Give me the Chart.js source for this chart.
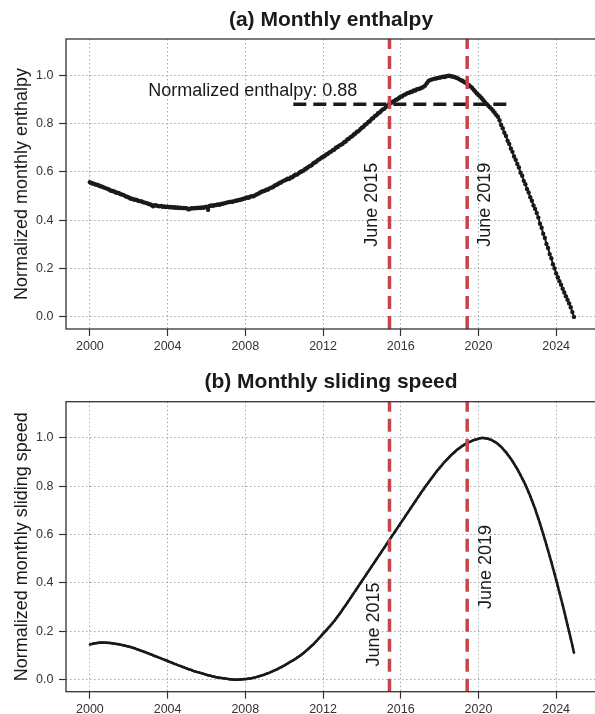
<!DOCTYPE html>
<html>
<head>
<meta charset="utf-8">
<script src="https://cdn.jsdelivr.net/npm/chart.js@4.4.0/dist/chart.umd.min.js"></script>
<style>
  html, body { margin: 0; padding: 0; background: #fff; overflow: hidden; }
  #wrap { position: relative; width: 595px; height: 714px; overflow: hidden; }
  canvas { position: absolute; left: 0; }
  #chartA { top: 0; }
  #chartB { top: 357px; }
</style>
</head>
<body>
<div id="wrap">
  <canvas id="chartA" width="600" height="357"></canvas>
  <canvas id="chartB" width="600" height="357"></canvas>
</div>
<script>
// monthly series, January 2000 .. December 2024
const startYear = 2000;

const enthalpy = [
  0.557,0.553,0.552,0.549,0.547,0.546,0.542,0.540,0.538,0.534,0.532,0.530,
  0.526,0.522,0.521,0.519,0.515,0.514,0.512,0.508,0.506,0.504,0.499,0.497,
  0.494,0.490,0.489,0.486,0.485,0.484,0.480,0.479,0.478,0.474,0.473,0.471,
  0.468,0.466,0.463,0.458,0.462,0.461,0.459,0.458,0.459,0.456,0.457,0.455,
  0.456,0.454,0.455,0.453,0.454,0.452,0.453,0.451,0.452,0.450,0.451,0.450,
  0.449,0.445,0.448,0.450,0.449,0.451,0.450,0.452,0.451,0.453,0.452,0.454,
  0.456,0.443,0.459,0.461,0.460,0.462,0.463,0.465,0.464,0.467,0.468,0.470,
  0.472,0.474,0.475,0.477,0.476,0.479,0.481,0.482,0.484,0.485,0.487,0.489,
  0.491,0.494,0.493,0.497,0.500,0.499,0.503,0.507,0.510,0.514,0.518,0.520,
  0.522,0.526,0.527,0.532,0.535,0.537,0.543,0.546,0.549,0.554,0.556,0.561,
  0.564,0.567,0.572,0.571,0.577,0.578,0.584,0.588,0.589,0.595,0.600,0.603,
  0.606,0.612,0.615,0.621,0.625,0.628,0.636,0.639,0.643,0.650,0.653,0.659,
  0.663,0.666,0.672,0.675,0.681,0.684,0.690,0.693,0.700,0.703,0.709,0.712,
  0.716,0.723,0.726,0.734,0.737,0.744,0.748,0.755,0.759,0.766,0.769,0.777,
  0.783,0.787,0.795,0.799,0.807,0.811,0.819,0.823,0.831,0.835,0.843,0.846,
  0.853,0.859,0.862,0.871,0.875,0.883,0.885,0.891,0.893,0.899,0.901,0.907,
  0.911,0.913,0.919,0.921,0.926,0.927,0.931,0.932,0.937,0.937,0.942,0.943,
  0.945,0.948,0.952,0.957,0.966,0.975,0.980,0.982,0.984,0.986,0.987,0.989,
  0.990,0.992,0.994,0.993,0.996,0.997,0.998,0.996,0.995,0.993,0.991,0.988,
  0.984,0.980,0.977,0.973,0.969,0.965,0.960,0.954,0.948,0.940,0.933,0.925,
  0.918,0.912,0.905,0.897,0.889,0.881,0.875,0.868,0.861,0.853,0.845,0.836,
  0.828,0.814,0.794,0.781,0.762,0.749,0.729,0.716,0.697,0.683,0.664,0.650,
  0.633,0.618,0.597,0.584,0.563,0.549,0.529,0.515,0.495,0.481,0.461,0.447,
  0.430,0.411,0.386,0.369,0.344,0.327,0.302,0.285,0.260,0.243,0.218,0.201,
  0.180,0.164,0.148,0.133,0.117,0.101,0.086,0.071,0.056,0.040,0.020,0.000
];

const slidingSpeed = [
  0.145,0.147,0.149,0.150,0.151,0.152,0.153,0.153,0.153,0.153,0.153,0.152,
  0.152,0.151,0.150,0.149,0.148,0.147,0.146,0.144,0.143,0.141,0.140,0.138,
  0.137,0.135,0.133,0.131,0.129,0.126,0.124,0.121,0.119,0.116,0.114,0.111,
  0.109,0.106,0.104,0.101,0.098,0.096,0.093,0.090,0.088,0.085,0.082,0.080,
  0.077,0.074,0.072,0.069,0.066,0.064,0.061,0.058,0.056,0.053,0.051,0.048,
  0.046,0.043,0.041,0.039,0.036,0.034,0.032,0.030,0.028,0.026,0.024,0.022,
  0.020,0.018,0.017,0.015,0.013,0.012,0.010,0.009,0.008,0.007,0.006,0.005,
  0.004,0.003,0.002,0.001,0.001,0.000,0.000,0.000,0.000,0.001,0.001,0.002,
  0.002,0.003,0.004,0.005,0.006,0.008,0.009,0.011,0.013,0.015,0.017,0.019,
  0.021,0.024,0.026,0.029,0.032,0.035,0.038,0.041,0.044,0.048,0.051,0.055,
  0.058,0.062,0.066,0.070,0.074,0.078,0.082,0.086,0.091,0.095,0.100,0.105,
  0.110,0.116,0.122,0.128,0.134,0.140,0.146,0.153,0.160,0.168,0.175,0.182,
  0.190,0.197,0.204,0.212,0.219,0.227,0.235,0.243,0.252,0.261,0.270,0.279,
  0.289,0.299,0.308,0.318,0.328,0.338,0.348,0.358,0.368,0.378,0.388,0.398,
  0.408,0.418,0.428,0.438,0.448,0.458,0.468,0.478,0.488,0.498,0.508,0.518,
  0.528,0.538,0.548,0.558,0.568,0.578,0.588,0.598,0.608,0.618,0.628,0.638,
  0.648,0.658,0.668,0.678,0.688,0.698,0.708,0.718,0.728,0.738,0.748,0.758,
  0.768,0.778,0.787,0.797,0.806,0.815,0.824,0.833,0.842,0.851,0.860,0.868,
  0.876,0.884,0.892,0.900,0.907,0.914,0.921,0.928,0.934,0.940,0.946,0.952,
  0.957,0.962,0.967,0.971,0.975,0.979,0.982,0.985,0.988,0.991,0.993,0.995,
  0.997,0.999,1.000,1.000,0.999,0.998,0.997,0.994,0.992,0.988,0.984,0.980,
  0.975,0.969,0.963,0.956,0.948,0.941,0.932,0.923,0.914,0.904,0.893,0.882,
  0.871,0.859,0.846,0.833,0.820,0.806,0.791,0.775,0.759,0.742,0.724,0.706,
  0.686,0.666,0.646,0.624,0.602,0.580,0.557,0.534,0.511,0.487,0.462,0.438,
  0.413,0.387,0.361,0.335,0.309,0.282,0.254,0.226,0.198,0.170,0.141,0.111
];

const yearTicks = [2000, 2004, 2008, 2012, 2016, 2020, 2024];
const valueTicks = [0, 0.2, 0.4, 0.6, 0.8, 1.0];
const eventDates = [2015.42, 2019.42];
const eventLabels = ['June 2015', 'June 2019'];
const thresholdValue = 0.88;
const thresholdLabel = 'Normalized enthalpy: 0.88';

Chart.defaults.font.family = '"Liberation Sans", Arial, sans-serif';

const X_MIN = 1998.77, X_MAX = 2026.05, Y_MIN = -0.05, Y_MAX = 1.15;
const RED = '#c9444a';
const INK = '#1a1a1a';

function toPoints(values) {
  return values.map((v, i) => ({ x: startYear + i / 12, y: v }));
}

function framePlugin() {
  return {
    id: 'frame',
    afterDraw(chart) {
      const { ctx, chartArea: a } = chart;
      ctx.save();
      ctx.strokeStyle = '#333';
      ctx.lineWidth = 1.3;
      ctx.strokeRect(a.left, a.top, a.right - a.left, a.bottom - a.top);
      ctx.restore();
    }
  };
}

function textPlugin(items) {
  return {
    id: 'panelText',
    afterDatasetsDraw(chart) {
      const { ctx, scales: { x, y } } = chart;
      ctx.save();
      ctx.fillStyle = INK;
      ctx.font = '18px "Liberation Sans", Arial, sans-serif';
      ctx.textAlign = 'center';
      ctx.textBaseline = 'middle';
      items.forEach(t => {
        ctx.save();
        ctx.translate(x.getPixelForValue(t.x), y.getPixelForValue(t.y));
        if (t.rotate) ctx.rotate(-Math.PI / 2);
        ctx.fillText(t.text, 0, 0);
        ctx.restore();
      });
      ctx.restore();
    }
  };
}

function makePanel(canvasId, cfg) {
  const datasets = [{
    data: toPoints(cfg.values),
    showLine: true,
    borderColor: INK,
    backgroundColor: INK,
    borderWidth: cfg.lineWidth,
    pointRadius: cfg.pointRadius,
    pointBorderWidth: 0,
    pointBackgroundColor: INK,
    tension: cfg.tension,
    order: 3
  }];

  if (cfg.threshold) {
    datasets.push({
      data: [{ x: cfg.threshold[0], y: thresholdValue }, { x: cfg.threshold[1], y: thresholdValue }],
      showLine: true,
      borderColor: INK,
      borderWidth: 3.5,
      borderDash: [13, 7],
      pointRadius: 0,
      order: 2
    });
  }

  eventDates.forEach(d => {
    datasets.push({
      data: [{ x: d, y: Y_MIN }, { x: d, y: Y_MAX }],
      showLine: true,
      borderColor: RED,
      borderWidth: 3.5,
      borderDash: [13, 7],
      pointRadius: 0,
      order: 1
    });
  });

  const gridOpts = {
    color: '#a8a8a8',
    lineWidth: 1,
    drawTicks: true,
    tickLength: 7,
    tickColor: '#333',
    tickWidth: 1.2
  };

  new Chart(document.getElementById(canvasId), {
    type: 'scatter',
    data: { datasets },
    options: {
      responsive: false,
      animation: false,
      events: [],
      layout: { padding: 0 },
      plugins: {
        legend: { display: false },
        tooltip: { enabled: false },
        title: {
          display: true,
          text: cfg.title,
          fullSize: false,
          color: INK,
          font: { size: 21, weight: 'bold' },
          padding: cfg.titlePadding
        }
      },
      scales: {
        x: {
          type: 'linear',
          min: X_MIN,
          max: X_MAX,
          afterBuildTicks: s => { s.ticks = yearTicks.map(v => ({ value: v })); },
          afterFit: s => { s.height = cfg.xAxisHeight; },
          ticks: {
            callback: v => String(v),
            color: '#333',
            font: { size: 12.5 },
            padding: 3,
            maxRotation: 0,
            autoSkip: false
          },
          grid: gridOpts,
          border: { display: false, dash: [1.5, 2.5] }
        },
        y: {
          min: Y_MIN,
          max: Y_MAX,
          afterBuildTicks: s => { s.ticks = valueTicks.map(v => ({ value: v })); },
          afterFit: s => { s.width = 66; },
          ticks: {
            callback: v => v.toFixed(1),
            color: '#333',
            font: { size: 12.5 },
            padding: 5.5
          },
          grid: gridOpts,
          border: { display: false, dash: [1.5, 2.5] },
          title: {
            display: true,
            text: cfg.yTitle,
            color: INK,
            font: { size: 18 },
            padding: { top: 10.9, bottom: 0 }
          }
        }
      }
    },
    plugins: [framePlugin(), textPlugin(cfg.labels)]
  });
}

makePanel('chartA', {
  title: '(a) Monthly enthalpy',
  yTitle: 'Normalized monthly enthalpy',
  values: enthalpy,
  lineWidth: 2,
  pointRadius: 2.2,
  tension: 0,
  threshold: [2010.47, 2021.49],
  titlePadding: { top: 7.9, bottom: 5.9 },
  xAxisHeight: 28,
  labels: [
    { text: thresholdLabel, x: 2008.38, y: 0.934 },
    { text: eventLabels[0], x: 2014.52, y: 0.464, rotate: true },
    { text: eventLabels[1], x: 2020.32, y: 0.464, rotate: true }
  ]
});

makePanel('chartB', {
  title: '(b) Monthly sliding speed',
  yTitle: 'Normalized monthly sliding speed',
  values: slidingSpeed,
  lineWidth: 2.6,
  pointRadius: 1.2,
  tension: 0.3,
  threshold: null,
  titlePadding: { top: 12.6, bottom: 6.9 },
  xAxisHeight: 22.3,
  labels: [
    { text: eventLabels[0], x: 2014.61, y: 0.228, rotate: true },
    { text: eventLabels[1], x: 2020.37, y: 0.466, rotate: true }
  ]
});
</script>
</body>
</html>
